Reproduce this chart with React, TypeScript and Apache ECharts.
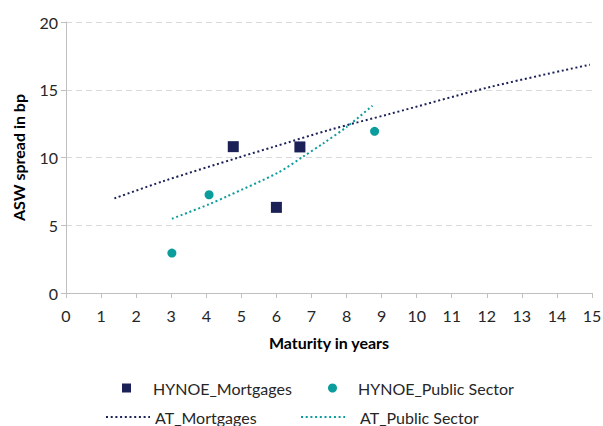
import React, { useEffect, useRef } from "react";
import * as echarts from "echarts";

// Scatter data: [maturity (years), ASW spread (bp)]
const hynoeMortgages: [number, number][] = [
  [4.77, 10.8],
  [6.0, 6.32],
  [6.67, 10.78],
];
const hynoePublic: [number, number][] = [
  [3.02, 2.95],
  [4.08, 7.25],
  [8.8, 11.93],
];
// Curves
const atMortgages: [number, number][] = [
  [1.38, 6.98],
  [2.76, 8.24],
  [4.97, 10.04],
  [5.9, 10.77],
  [7.53, 12.05],
  [9.21, 13.2],
  [12.09, 15.2],
  [14.94, 16.85],
];
const atPublic: [number, number][] = [
  [3.02, 5.48],
  [4.08, 6.55],
  [4.59, 7.13],
  [6.06, 8.9],
  [6.77, 10.08],
  [7.34, 11.05],
  [8.0, 12.25],
  [8.74, 13.82],
];

const seriesNames = ["HYNOE_Mortgages", "HYNOE_Public Sector", "AT_Mortgages", "AT_Public Sector"];
const xTitle = "Maturity in years";
const yTitle = "ASW spread in bp";

const NAVY = "#1b2157";
const TEAL = "#0b9c9c";
const FONT = "Lato";
const DOT: number[] = [2, 2.7];

export default function App() {
  const ref = useRef<HTMLDivElement>(null);
  useEffect(() => {
    if (!ref.current) return;
    const chart = echarts.init(ref.current, undefined, { renderer: "svg" });
    const legendText = { fontFamily: FONT, fontSize: 16, color: "#262626", lineHeight: 20 };
    const hiddenSymbol = { color: "rgba(0,0,0,0)", borderWidth: 0, opacity: 0 };
    chart.setOption({
      animation: false,
      backgroundColor: "#ffffff",
      grid: { left: 66, right: 11, top: 22, bottom: 133, outerBoundsMode: "none" },
      xAxis: {
        type: "value",
        min: 0,
        max: 15,
        interval: 1,
        name: xTitle,
        nameLocation: "middle",
        nameGap: 41,
        nameTextStyle: { fontFamily: FONT, fontSize: 16, fontWeight: "bold", color: "#000" },
        axisLine: { show: true, lineStyle: { color: "#bfbfbf", width: 1 } },
        axisTick: { show: true, length: 5, lineStyle: { color: "#bfbfbf" } },
        axisLabel: { fontFamily: FONT, fontSize: 16, color: "#262626", margin: 14 },
        splitLine: { show: false },
      },
      yAxis: {
        type: "value",
        min: 0,
        max: 20,
        interval: 5,
        name: yTitle,
        nameLocation: "middle",
        nameRotate: 90,
        nameGap: 40,
        nameTextStyle: { fontFamily: FONT, fontSize: 16, fontWeight: "bold", color: "#000" },
        axisLine: { show: true, lineStyle: { color: "#bfbfbf", width: 1 } },
        axisTick: { show: true, length: 5, lineStyle: { color: "#bfbfbf" } },
        axisLabel: { fontFamily: FONT, fontSize: 16, color: "#262626", margin: 8 },
        splitLine: { show: true, lineStyle: { color: "#d9d9d9", type: [6, 4], width: 1 } },
      },
      legend: [
        {
          data: [{ name: seriesNames[0], icon: "rect" }],
          left: 122,
          top: 378,
          padding: 0,
          itemWidth: 9,
          itemHeight: 9,
          selectedMode: false,
          textStyle: { ...legendText, padding: [0, 0, 0, 17] },
        },
        {
          data: [{ name: seriesNames[1], icon: "circle" }],
          left: 328,
          top: 378,
          padding: 0,
          itemWidth: 9,
          itemHeight: 9,
          selectedMode: false,
          textStyle: { ...legendText, padding: [0, 0, 0, 16] },
        },
        {
          data: [{ name: seriesNames[2] }],
          left: 105,
          top: 407,
          padding: 0,
          itemWidth: 44,
          itemHeight: 9,
          selectedMode: false,
          itemStyle: hiddenSymbol,
          lineStyle: { type: DOT, width: 2, color: NAVY, opacity: 1 },
          textStyle: { ...legendText, padding: [0, 0, 0, 0] },
        },
        {
          data: [{ name: seriesNames[3] }],
          left: 300,
          top: 407,
          padding: 0,
          itemWidth: 44,
          itemHeight: 9,
          selectedMode: false,
          itemStyle: hiddenSymbol,
          lineStyle: { type: DOT, width: 2, color: TEAL, opacity: 1 },
          textStyle: { ...legendText, padding: [0, 0, 0, 10] },
        },
      ],
      series: [
        {
          name: seriesNames[0],
          type: "scatter",
          symbol: "rect",
          symbolSize: 11,
          data: hynoeMortgages,
          itemStyle: { color: NAVY, opacity: 1 },
          z: 3,
        },
        {
          name: seriesNames[1],
          type: "scatter",
          symbol: "circle",
          symbolSize: 9,
          data: hynoePublic,
          itemStyle: { color: TEAL, opacity: 1 },
          z: 3,
        },
        {
          name: seriesNames[2],
          type: "line",
          smooth: 0.3,
          symbol: "none",
          showSymbol: false,
          data: atMortgages,
          itemStyle: { color: NAVY },
          lineStyle: { color: NAVY, width: 2, type: DOT },
          z: 2,
        },
        {
          name: seriesNames[3],
          type: "line",
          smooth: 0.3,
          symbol: "none",
          showSymbol: false,
          data: atPublic,
          itemStyle: { color: TEAL },
          lineStyle: { color: TEAL, width: 2, type: DOT },
          z: 2,
        },
      ],
    });
    return () => chart.dispose();
  }, []);
  return (
    <div
      ref={ref}
      style={{ position: "absolute", left: 0, top: 0, width: 603, height: 426, background: "#fff" }}
    />
  );
}
